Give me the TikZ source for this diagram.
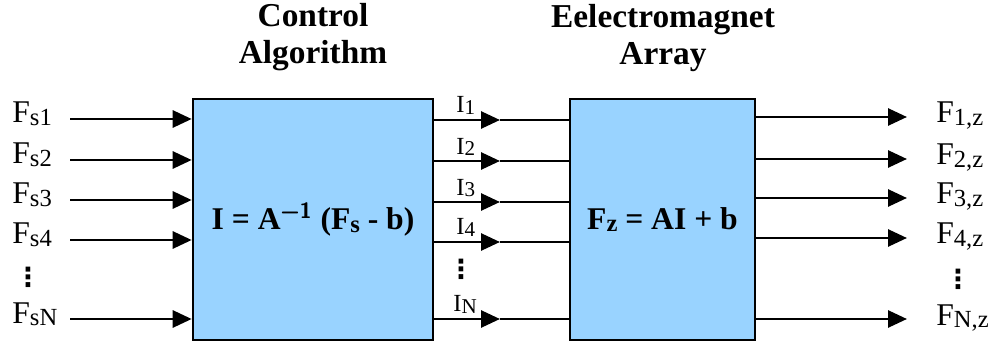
\documentclass[tikz,border=0pt]{standalone}
\usepackage{fontspec}
\setmainfont{Liberation Serif}
\newfontfamily\dotfont{DejaVu Sans}
\usepackage{tikz}
\usetikzlibrary{arrows.meta, positioning}

\definecolor{boxblue}{RGB}{153,211,255}
\newcommand{\lo}[1]{\raisebox{-1.5pt}{\fontsize{14}{14}\selectfont #1}}
\newcommand{\lom}[1]{\raisebox{-1pt}{\fontsize{12}{12}\selectfont #1}}

\begin{document}
\begin{tikzpicture}[x=0.02cm, y=-0.02cm,
                block/.style={rectangle, draw, line width=1.5pt, fill=boxblue, minimum height=4.82cm, inner sep=0pt, font=\bfseries\fontsize{18}{21}\selectfont},
                title/.style={align=center, inner sep=0pt, font=\bfseries\fontsize{19}{21}\selectfont},
                lab/.style={inner sep=0pt, font=\fontsize{18}{21}\selectfont},
                small/.style={inner sep=0pt, font=\fontsize{14}{15}\selectfont},
                dots/.style={inner sep=0pt, font=\dotfont\bfseries\fontsize{15}{15}\selectfont},
                sig/.style={line width=1.6pt, -{Triangle[length=0.38cm, width=0.34cm]}},
                wire/.style={line width=1.6pt}
            ]
                \useasboundingbox (0,0) rectangle (995,348);

                \node[block, minimum width=4.8cm] (ctrl) at (313,219.5) {I = A\textsuperscript{\textsf{−1}} (F\lo{s} - b)};
                \node[block, minimum width=3.7cm] (emag) at (662.5,219.5) {F\lo{z} = AI + b};

                \node[title] (tctrl) at (313,37) {Control\\Algorithm};
                \node[title] (temag) at (663,38) {Eelectromagnet\\Array};

                % inputs
                \coordinate (in1) at (70,119);
                \coordinate (in2) at (70,160);
                \coordinate (in3) at (70,200);
                \coordinate (in4) at (70,240);
                \coordinate (inN) at (70,319);
                \node[lab, anchor=base west] (fs1) at (12,123) {F\lo{s1}};
                \node[lab, anchor=base west] (fs2) at (12,164) {F\lo{s2}};
                \node[lab, anchor=base west] (fs3) at (12,204) {F\lo{s3}};
                \node[lab, anchor=base west] (fs4) at (12,244) {F\lo{s4}};
                \node[dots] (dl) at (28,277) {⋮};
                \node[lab, anchor=base west] (fsN) at (12,323) {F\lo{sN}};
                \draw[sig] (in1) -- (in1 -| ctrl.west);
                \draw[sig] (in2) -- (in2 -| ctrl.west);
                \draw[sig] (in3) -- (in3 -| ctrl.west);
                \draw[sig] (in4) -- (in4 -| ctrl.west);
                \draw[sig] (inN) -- (inN -| ctrl.west);

                % currents
                \coordinate (c1) at (500,120);
                \coordinate (c2) at (500,161);
                \coordinate (c3) at (500,202);
                \coordinate (c4) at (500,242);
                \coordinate (cN) at (500,319);
                \draw[sig] (c1 -| ctrl.east) -- (c1);
                \draw[wire] (c1) -- (c1 -| emag.west);
                \draw[sig] (c2 -| ctrl.east) -- (c2);
                \draw[wire] (c2) -- (c2 -| emag.west);
                \draw[sig] (c3 -| ctrl.east) -- (c3);
                \draw[wire] (c3) -- (c3 -| emag.west);
                \draw[sig] (c4 -| ctrl.east) -- (c4);
                \draw[wire] (c4) -- (c4 -| emag.west);
                \draw[sig] (cN -| ctrl.east) -- (cN);
                \draw[wire] (cN) -- (cN -| emag.west);
                \node[small, anchor=base west] (i1) at (456,113) {I\lom{1}};
                \node[small, anchor=base west] (i2) at (456,154) {I\lom{2}};
                \node[small, anchor=base west] (i3) at (456,195) {I\lom{3}};
                \node[small, anchor=base west] (i4) at (456,235) {I\lom{4}};
                \node[dots] (dm) at (461,269) {⋮};
                \node[small, anchor=base west] (iN) at (453,312) {I\lom{N}};

                % outputs
                \coordinate (o1) at (907,117);
                \coordinate (o2) at (907,159);
                \coordinate (o3) at (907,198);
                \coordinate (o4) at (907,238);
                \coordinate (oN) at (907,319);
                \draw[sig] (o1 -| emag.east) -- (o1);
                \draw[sig] (o2 -| emag.east) -- (o2);
                \draw[sig] (o3 -| emag.east) -- (o3);
                \draw[sig] (o4 -| emag.east) -- (o4);
                \draw[sig] (oN -| emag.east) -- (oN);
                \node[lab, anchor=base west] (f1) at (936,123) {F\lo{1,z}};
                \node[lab, anchor=base west] (f2) at (936,165) {F\lo{2,z}};
                \node[lab, anchor=base west] (f3) at (936,204) {F\lo{3,z}};
                \node[lab, anchor=base west] (f4) at (936,244) {F\lo{4,z}};
                \node[dots] (dr) at (958,279) {⋮};
                \node[lab, anchor=base west] (fN) at (936,325) {F\lo{N,z}};
            \end{tikzpicture}
\end{document}
